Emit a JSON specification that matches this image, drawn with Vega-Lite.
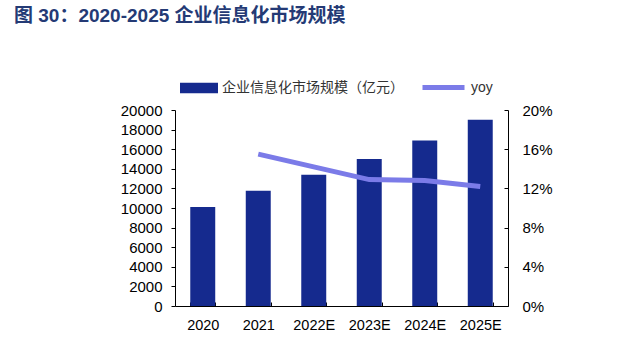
{
  "$schema": "https://vega.github.io/schema/vega-lite/v6.json",
  "width": 333,
  "height": 196,
  "autosize": {"type": "none"},
  "padding": {"left": 175, "top": 110, "right": 132, "bottom": 35},
  "background": "white",
  "title": {
    "text": "图 30：2020-2025 企业信息化市场规模",
    "anchor": "start",
    "frame": "group",
    "dx": -161,
    "offset": 38,
    "font": "Liberation Sans, Noto Sans CJK SC",
    "fontSize": 19,
    "fontWeight": "bold",
    "color": "#243A75"
  },
  "config": {
    "view": {"stroke": null},
    "axis": {"grid": false, "domainColor": "#000000", "tickColor": "#000000", "labelColor": "#000000", "labelFont": "Liberation Sans", "title": null}
  },
  "data": {
    "values": [
      {"year": "2020", "value": 10100, "yoy": null},
      {"year": "2021", "value": 11750, "yoy": 0.155},
      {"year": "2022E", "value": 13400, "yoy": 0.142},
      {"year": "2023E", "value": 15000, "yoy": 0.129},
      {"year": "2024E", "value": 16900, "yoy": 0.128},
      {"year": "2025E", "value": 19000, "yoy": 0.122}
    ]
  },
  "encoding": {
    "x": {
      "field": "year",
      "type": "nominal",
      "sort": null,
      "scale": {"paddingInner": 0.55, "paddingOuter": 0.275},
      "axis": {"labelAngle": 0, "labelFontSize": 14.5, "tickBand": "extent", "tickSize": -4, "labelPadding": 16}
    }
  },
  "layer": [
    {
      "mark": {"type": "bar"},
      "encoding": {
        "y": {
          "field": "value",
          "type": "quantitative",
          "scale": {"domain": [0, 20000]},
          "axis": {"values": [0, 2000, 4000, 6000, 8000, 10000, 12000, 14000, 16000, 18000, 20000], "labelFontSize": 15, "tickSize": 4, "labelPadding": 9, "format": "d"}
        },
        "fill": {
          "datum": "企业信息化市场规模（亿元）",
          "type": "nominal",
          "scale": {"range": ["#152A8E"]},
          "legend": {
            "orient": "none",
            "legendX": 5,
            "legendY": -41,
            "title": null,
            "symbolType": "M-1,-0.27H1V0.27H-1Z",
            "symbolSize": 1444,
            "symbolStrokeWidth": 0,
            "labelFont": "Noto Sans CJK SC",
            "labelFontSize": 14,
            "labelColor": "#333333",
            "labelOffset": 4,
            "labelLimit": 300
          }
        }
      }
    },
    {
      "mark": {"type": "line", "strokeWidth": 5},
      "encoding": {
        "y": {
          "field": "yoy",
          "type": "quantitative",
          "scale": {"domain": [0, 0.2]},
          "axis": {"orient": "right", "values": [0, 0.04, 0.08, 0.12, 0.16, 0.2], "format": ".0%", "labelFontSize": 15, "tickSize": -4, "labelPadding": 18}
        },
        "stroke": {
          "datum": "yoy",
          "type": "nominal",
          "scale": {"range": ["#7B7BE8"]},
          "legend": {
            "orient": "none",
            "legendX": 245,
            "legendY": -46,
            "title": null,
            "symbolType": "stroke",
            "symbolSize": 1764,
            "symbolStrokeWidth": 5,
            "labelFont": "Liberation Sans",
            "labelFontSize": 14,
            "labelColor": "#333333",
            "labelOffset": 4
          }
        }
      }
    }
  ],
  "resolve": {"scale": {"y": "independent"}}
}
